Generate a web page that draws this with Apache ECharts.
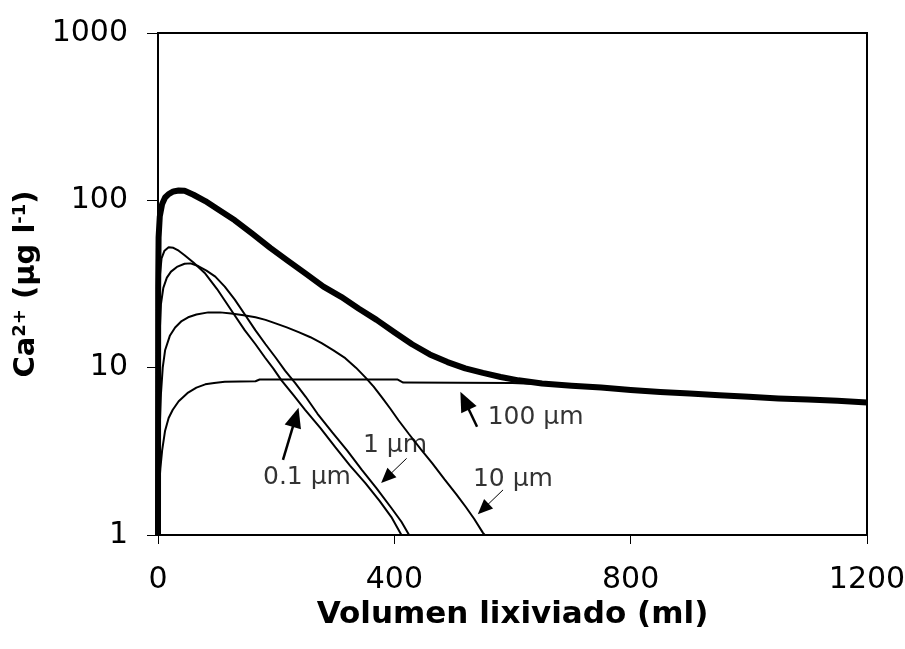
<!DOCTYPE html>
<html>
<head>
<meta charset="utf-8">
<script src="https://cdn.jsdelivr.net/npm/echarts@6/dist/echarts.min.js"></script>
<style>html,body{margin:0;padding:0;background:#fff;}#chart{width:905px;height:649px;}</style>
</head>
<body>
<div id="chart"></div>
<script>
// ---- data (volume in ml, Ca2+ in µg/l) ----
var volTotal = [0,0.3,1,3,7,12,18,26,35,45,60,80,100,130,160,190,220,250,280,310,340,370,400,430,460,490,520,550,580,610,650,700,750,800,850,900,950,1000,1050,1100,1150,1200];
var caTotal  = [1,30,60,80,95,104,109,113,114.5,114,108,99,89,76,63,52,43.5,36.5,30.5,26.5,22.5,19.3,16.3,13.8,12,10.8,9.9,9.3,8.8,8.4,8.05,7.8,7.6,7.35,7.15,7.0,6.85,6.7,6.55,6.45,6.35,6.2];

var vol01 = [0,0.5,1.5,3,6,11,18,26,35,45,60,80,100,113,130,147,165,181,195,209,230,249,275,300,325,351,375,395,412];
var ca01  = [1,5,20,35,45,50,52.5,52,50,47,42.5,36.5,29.5,25.2,20.5,16.7,13.8,11.5,9.9,8.4,6.8,5.6,4.35,3.35,2.6,2.04,1.6,1.28,1.0];

var vol1 = [0,1,2.5,5,9,15,22,32,45,55,68,82,97,113,130,147,165,182,199,215,232,250,270,295,320,345,370,395,412,425];
var ca1  = [1,5,15,24,30,34.5,37.5,40,41.8,42,40.5,38,35,30.5,25.5,20.8,16.7,13.8,11.5,9.6,8.1,6.7,5.3,4.1,3.2,2.45,1.9,1.45,1.2,1.0];

var vol10 = [0,1,2.5,5,8,12,20,29,40,51,65,85,105,124,145,165,182,199,218,238,258,277,297,317,335,351,365,379,393,407,425,445,464,485,505,521,535,550,553];
var ca10  = [1,2,4,7,10,12.7,15.5,17.4,19,20,20.8,21.4,21.4,21.1,20.6,20,19.3,18.4,17.4,16.3,15.2,14,12.7,11.4,10,8.75,7.7,6.65,5.7,4.85,4.0,3.25,2.69,2.15,1.75,1.47,1.25,1.03,1.0];

var vol100 = [0,1,2,4,7,12,18,25,35,51,65,80,95,113,165,172,405,415,600,650,700,750,800,850,900,950,1000,1050,1100,1150,1200];
var ca100  = [1,1.6,2.0,2.5,3.2,4.2,5.0,5.6,6.3,7.1,7.6,7.95,8.1,8.25,8.3,8.5,8.5,8.15,8.1,7.95,7.75,7.55,7.3,7.1,6.95,6.8,6.65,6.5,6.4,6.3,6.15];

// annotation labels: [volume, conc, text]
var labelVol  = [558, 347, 177.7, 533];
var labelCa   = [5.04, 3.42, 2.21, 2.16];
var labelText = ['100 µm', '1 µm', '0.1 µm', '10 µm'];

// arrows: tail -> head (data coordinates)
var arrowBoldFrom = [[540, 4.43], [211.5, 2.81]];
var arrowBoldTo   = [[519, 6.35], [233, 5.05]];
var arrowThinFrom = [[420.8, 2.87], [584, 1.86]];
var arrowThinTo   = [[386.8, 2.2], [550.4, 1.43]];

var xTicks = [0, 400, 800, 1200];
var yTicks = [1, 10, 100, 1000];

function zip(a, b) { return a.map(function (v, i) { return [v, b[i]]; }); }
function arrows(from, to) { return from.map(function (f, i) { return [{coord: f}, {coord: to[i]}]; }); }

var FONT = 'DejaVu Sans';
var chart = echarts.init(document.getElementById('chart'));
var thin = {color: '#000', width: 2};

chart.setOption({
  animation: false,
  backgroundColor: '#fff',
  grid: {left: 158, right: 38, top: 33, bottom: 114, show: true, borderColor: '#000', borderWidth: 2,
    backgroundColor: 'transparent', outerBoundsMode: 'none', containLabel: false},
  xAxis: {
    type: 'value', min: xTicks[0], max: xTicks[xTicks.length - 1], interval: 400,
    name: 'Volumen lixiviado (ml)', nameLocation: 'middle', nameGap: 58,
    nameTextStyle: {fontFamily: FONT, fontWeight: 'bold', fontSize: 31, color: '#000'},
    axisLine: {show: true, lineStyle: {color: '#000', width: 2}},
    axisTick: {show: true, inside: false, length: 9, lineStyle: {color: '#000', width: 1}},
    axisLabel: {fontFamily: FONT, fontSize: 30, color: '#000', margin: 30,
      formatter: function (v) { return String(v); }},
    splitLine: {show: false}
  },
  yAxis: {
    type: 'log', logBase: 10, min: yTicks[0], max: yTicks[yTicks.length - 1],
    name: '{b|Ca}{s|2+}{b| (µg l}{s|-1}{b|)}', nameLocation: 'middle', nameRotate: 90, nameGap: 104,
    nameTextStyle: {
      fontFamily: FONT, fontWeight: 'bold', fontSize: 29, color: '#000',
      rich: {
        b: {fontFamily: FONT, fontWeight: 'bold', fontSize: 29, color: '#000', verticalAlign: 'bottom'},
        s: {fontFamily: FONT, fontWeight: 'bold', fontSize: 18, color: '#000', verticalAlign: 'top'}
      }
    },
    axisLine: {show: true, lineStyle: {color: '#000', width: 2}},
    axisTick: {show: true, inside: false, length: 11, lineStyle: {color: '#000', width: 1}},
    minorTick: {show: false},
    axisLabel: {fontFamily: FONT, fontSize: 30, color: '#000', margin: 30, padding: [0, 0, 10, 0],
      formatter: function (v) { return String(Math.round(v)); }},
    splitLine: {show: false}
  },
  series: [
    {name: '100 µm', type: 'line', data: zip(vol100, ca100), showSymbol: false, lineStyle: thin, itemStyle: {color: '#000'}},
    {name: '10 µm', type: 'line', data: zip(vol10, ca10), showSymbol: false, lineStyle: thin, itemStyle: {color: '#000'}},
    {name: '1 µm', type: 'line', data: zip(vol1, ca1), showSymbol: false, lineStyle: thin, itemStyle: {color: '#000'}},
    {name: '0.1 µm', type: 'line', data: zip(vol01, ca01), showSymbol: false, lineStyle: thin, itemStyle: {color: '#000'}},
    {name: 'total', type: 'line', data: zip(volTotal, caTotal), showSymbol: false, lineStyle: {color: '#000', width: 6, join: 'round'}, itemStyle: {color: '#000'}},
    {
      name: 'labels', type: 'scatter', symbolSize: 0, silent: true,
      data: labelVol.map(function (v, i) { return {value: [v, labelCa[i]], name: labelText[i]}; }),
      label: {show: true, position: [0, 0], align: 'left', verticalAlign: 'middle',
        formatter: function (p) { return p.name; }, fontFamily: FONT, fontSize: 25, color: '#000'},
      markLine: {
        silent: true, symbol: ['none', 'triangle'], symbolSize: [17, 20], label: {show: false},
        lineStyle: {color: '#000', width: 2.5, type: 'solid'},
        data: arrows(arrowBoldFrom, arrowBoldTo)
      }
    },
    {
      name: 'arrows-thin', type: 'scatter', symbolSize: 0, silent: true, data: [],
      markLine: {
        silent: true, symbol: ['none', 'triangle'], symbolSize: [13, 15], label: {show: false},
        lineStyle: {color: '#000', width: 1, type: 'solid'},
        data: arrows(arrowThinFrom, arrowThinTo)
      }
    }
  ]
});
</script>
</body>
</html>
